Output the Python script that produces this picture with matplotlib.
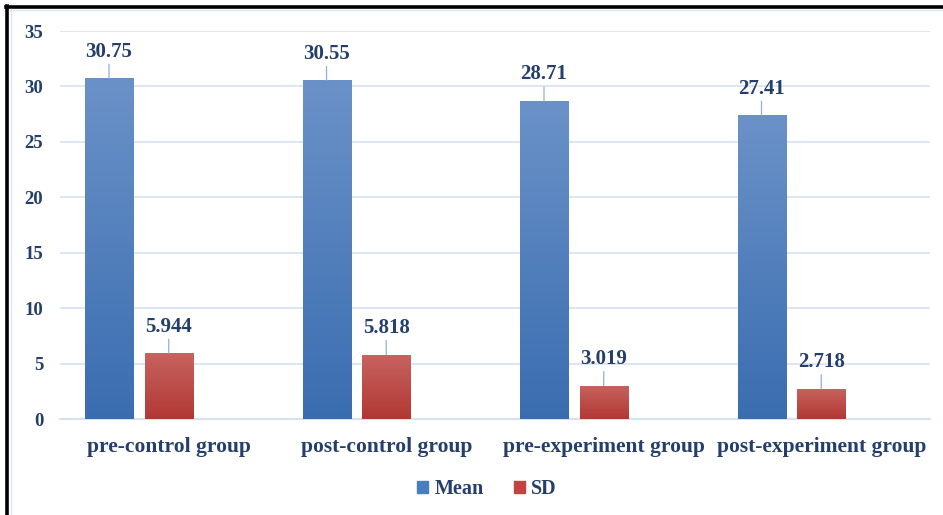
import numpy as np
import matplotlib.pyplot as plt
from matplotlib.lines import Line2D
from matplotlib.patches import Rectangle
from matplotlib.colors import LinearSegmentedColormap

categories = ["pre-control group", "post-control group",
              "pre-experiment group", "post-experiment group"]
mean_values = [30.75, 30.55, 28.71, 27.41]
sd_values = [5.944, 5.818, 3.019, 2.718]
mean_labels = ["30.75", "30.55", "28.71", "27.41"]
sd_labels = ["5.944", "5.818", "3.019", "2.718"]
y_ticks = [0, 5, 10, 15, 20, 25, 30, 35]

text_color = "#243f6b"
grid_color = "#d6e2f2"
font = "Liberation Serif"

fig = plt.figure(figsize=(9.43, 5.15), dpi=100)
ax = fig.add_axes([60 / 943, 1 - 419 / 515, 870 / 943, 388 / 515])

x = np.arange(len(categories))
width = 0.2207
offset = 0.2747


def gradient_bars(xs, heights, top_color, bottom_color):
    cmap = LinearSegmentedColormap.from_list("g", [bottom_color, top_color])
    bars = ax.bar(xs, heights, width, color="none", edgecolor="none", zorder=3)
    for b in bars:
        x0, y0 = b.get_x(), b.get_y()
        w, h = b.get_width(), b.get_height()
        grad = np.linspace(0, 1, 256).reshape(-1, 1)
        im = ax.imshow(grad, cmap=cmap, origin="lower", aspect="auto",
                       extent=[x0, x0 + w, y0, y0 + h], zorder=3)
        clip = Rectangle((x0, y0), w, h, transform=ax.transData)
        im.set_clip_path(clip)
    return bars


mean_bars = gradient_bars(x - offset, mean_values, "#6b92c8", "#3a6db0")
sd_bars = gradient_bars(x, sd_values, "#c8635f", "#b13834")


def value_labels(bars, labels):
    for b, lab in zip(bars, labels):
        cx = b.get_x() + b.get_width() / 2
        top = b.get_height()
        ax.annotate(lab, xy=(cx, top), xytext=(0, 19), textcoords="offset points",
                    ha="center", va="center", fontsize=15, fontweight="bold",
                    family=font, color=text_color, zorder=5)
        ax.annotate("", xy=(cx, top), xytext=(0, 10), textcoords="offset points",
                    arrowprops=dict(arrowstyle="-", color="#8fb0de", lw=0.9,
                                    shrinkA=0, shrinkB=0), zorder=4)


value_labels(mean_bars, mean_labels)
value_labels(sd_bars, sd_labels)

ax.set_xlim(-0.5, len(categories) - 0.5)
ax.set_ylim(0, 35)
ax.set_yticks(y_ticks)
ax.set_yticklabels([str(t) for t in y_ticks], fontsize=13.5, fontweight="bold",
                   family=font, color=text_color)
ax.set_xticks(x)
ax.set_xticklabels(categories, fontsize=15.5, fontweight="bold",
                   family=font, color=text_color)
ax.tick_params(axis="both", length=0)
ax.tick_params(axis="y", pad=12)
ax.tick_params(axis="x", pad=13)
ax.grid(axis="y", color=grid_color, lw=1.2, zorder=0)
ax.set_axisbelow(True)
for side in ["top", "right", "left"]:
    ax.spines[side].set_visible(False)
ax.spines["bottom"].set_color(grid_color)
ax.spines["bottom"].set_linewidth(1.5)

handles = [Rectangle((0, 0), 1, 1, color="#4a7cc0"),
           Rectangle((0, 0), 1, 1, color="#c0443f")]
fig.legend(handles, ["Mean", "SD"], loc="center", bbox_to_anchor=(487 / 943, 1 - 489 / 515),
           ncol=2, frameon=False, handlelength=0.55, handleheight=0.55,
           handletextpad=0.3, columnspacing=1.5,
           prop={"family": font, "weight": "bold", "size": 14.5},
           labelcolor=text_color)

# outer frame: black edge on top and left, thin blue inner line
fig.add_artist(Line2D([7.5 / 943, 7.5 / 943], [0, 1 - 6 / 515], color="black", lw=2.6))
fig.add_artist(Line2D([6 / 943, 1], [1 - 7 / 515, 1 - 7 / 515], color="black", lw=2.6))
fig.add_artist(Line2D([10.5 / 943, 10.5 / 943], [0, 1 - 9 / 515], color="#dbe6f4", lw=1))
fig.add_artist(Line2D([10 / 943, 1], [1 - 9.5 / 515, 1 - 9.5 / 515], color="#dbe6f4", lw=1))

fig.savefig("out.png", dpi=100)
